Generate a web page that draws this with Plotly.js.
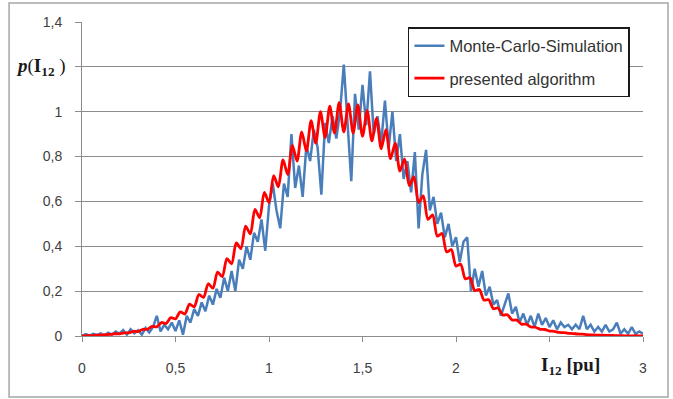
<!DOCTYPE html>
<html>
<head>
<meta charset="utf-8">
<script src="https://cdn.plot.ly/plotly-3.0.1.min.js"></script>
<style>html,body{margin:0;padding:0;background:#fff;}#chart{width:673px;height:399px;}</style>
</head>
<body>
<div id="chart"></div>
<script>
// Monte-Carlo-Simulation: sampled every 0.02 pu starting at 0
const mcStart = 0;
const mcStep = 0.02;
const mcValues = [
0.000,0.008,0.002,0.010,0.004,0.012,0.002,0.015,0.006,0.020,
0.010,0.026,0.006,0.030,0.012,0.026,0.006,0.036,0.016,0.040,
0.090,0.020,0.050,0.030,0.060,0.022,0.070,0.006,0.090,0.060,
0.120,0.090,0.150,0.110,0.180,0.140,0.210,0.170,0.260,0.200,
0.290,0.200,0.340,0.300,0.400,0.340,0.460,0.420,0.520,0.380,
0.580,0.680,0.560,0.480,0.680,0.620,0.900,0.660,0.760,0.620,
0.850,0.780,0.920,0.840,0.630,0.950,0.860,0.980,0.880,1.000,
1.210,0.950,0.690,1.080,0.920,1.120,0.940,1.180,0.900,0.980,
0.860,1.050,0.840,1.000,0.780,0.900,0.700,0.780,0.640,0.820,
0.480,0.720,0.830,0.560,0.620,0.500,0.550,0.440,0.500,0.400,
0.440,0.330,0.420,0.440,0.200,0.300,0.220,0.290,0.180,0.220,
0.140,0.160,0.090,0.140,0.190,0.100,0.130,0.060,0.100,0.050,
0.090,0.040,0.100,0.050,0.080,0.040,0.070,0.030,0.060,0.040,
0.050,0.030,0.050,0.030,0.090,0.030,0.050,0.020,0.040,0.020,
0.050,0.020,0.030,0.060,0.010,0.030,0.010,0.040,0.010,0.020,
0.010
];

// presented algorithm: sampled every 0.025 pu starting at 0
const algStart = 0;
const algStep = 0.025;
const algValues = [
0.000,0.002,0.002,0.004,0.004,0.006,0.007,0.010,0.010,0.014,
0.014,0.021,0.020,0.030,0.030,0.043,0.041,0.060,0.056,0.082,
0.076,0.108,0.098,0.142,0.130,0.185,0.172,0.233,0.213,0.285,
0.265,0.345,0.322,0.415,0.390,0.490,0.455,0.565,0.527,0.640,
0.595,0.715,0.665,0.785,0.720,0.850,0.780,0.910,0.825,0.960,
0.860,1.000,0.885,1.025,0.905,1.040,0.910,1.035,0.905,1.030,
0.890,1.005,0.870,0.970,0.835,0.920,0.790,0.860,0.735,0.790,
0.670,0.710,0.595,0.625,0.520,0.540,0.445,0.457,0.375,0.385,
0.312,0.320,0.255,0.260,0.203,0.207,0.160,0.162,0.122,0.125,
0.094,0.095,0.071,0.071,0.053,0.053,0.040,0.039,0.030,0.029,
0.022,0.021,0.016,0.015,0.012,0.011,0.009,0.008,0.006,0.005,
0.004,0.004,0.003,0.003,0.002,0.002,0.001,0.001,0.001,0.001,
0.000
];

const seriesNames = ['Monte-Carlo-Simulation', 'presented algorithm'];
const xTickVals = [0, 0.5, 1, 1.5, 2, 3];
const xTickText = ['0', '0,5', '1', '1,5', '2', '3'];
const yTickVals = [0, 0.2, 0.4, 0.6, 0.8, 1, 1.4];
const yTickText = ['0', '0,2', '0,4', '0,6', '0,8', '1', '1,4'];
const yAxisLabel = '<b><i>p</i></b>(<b>I<sub>12</sub></b> )';
const xAxisLabel = '<b>I<sub>12</sub> [pu]</b>';

const serif = 'Liberation Serif, DejaVu Serif, serif';
const sans = 'Liberation Sans, Arial, sans-serif';
const gridGray = '#8c8c8c';

const traces = [
  {
    type: 'scatter', mode: 'lines', name: seriesNames[0], legendgroup: 'a',
    x0: mcStart, dx: mcStep, y: mcValues,
    line: {color: '#4a7ebb', width: 2.5}
  },
  {
    type: 'scatter', mode: 'lines', name: seriesNames[1], legendgroup: 'b',
    x0: algStart, dx: algStep, y: algValues,
    line: {color: '#ff0000', width: 2.8, shape: 'spline', smoothing: 0.8}
  }
];

const layout = {
  width: 673, height: 399,
  margin: {l: 82, r: 30, t: 22, b: 63, pad: 0},
  paper_bgcolor: '#ffffff', plot_bgcolor: '#ffffff',
  font: {family: sans, size: 14, color: '#404040'},
  showlegend: true,
  legend: {
    x: 0.581, y: 0.984, xanchor: 'left', yanchor: 'top',
    bgcolor: '#ffffff', bordercolor: '#1a1a1a', borderwidth: 1.5,
    font: {family: sans, size: 16.5, color: '#333333'},
    traceorder: 'grouped', tracegroupgap: 8,
    entrywidthmode: 'pixels', entrywidth: 186
  },
  xaxis: {
    range: [0, 3], tickmode: 'array', tickvals: xTickVals, ticktext: xTickText,
    showgrid: false, zeroline: false,
    showline: true, linecolor: gridGray, linewidth: 1,
    ticks: 'outside', ticklen: 5, tickcolor: gridGray,
    ticklabelstandoff: 14,
    tickfont: {family: sans, size: 14, color: '#404040'},
    minor: {tick0: 0, dtick: 0.5, ticks: 'outside', ticklen: 5, tickcolor: gridGray, showgrid: false}
  },
  yaxis: {
    range: [0, 1.4], tickmode: 'array', tickvals: yTickVals, ticktext: yTickText,
    showgrid: true, gridcolor: gridGray, gridwidth: 1,
    zeroline: false,
    showline: true, linecolor: gridGray, linewidth: 1,
    ticks: 'outside', ticklen: 6, tickcolor: gridGray,
    ticklabelstandoff: 10,
    tickfont: {family: sans, size: 14, color: '#404040'},
    minor: {tick0: 0, dtick: 0.2, ticks: 'outside', ticklen: 6, tickcolor: gridGray,
            showgrid: true, gridcolor: gridGray, gridwidth: 1}
  },
  annotations: [
    {
      xref: 'paper', yref: 'y', x: -0.025, y: 1.2, xanchor: 'right', yanchor: 'middle',
      showarrow: false, text: yAxisLabel,
      font: {family: serif, size: 19, color: '#1a1a1a'}
    },
    {
      xref: 'x', yref: 'paper', x: 2.61, y: -0.095, xanchor: 'center', yanchor: 'middle',
      showarrow: false, text: xAxisLabel,
      font: {family: serif, size: 19, color: '#1a1a1a'}
    }
  ],
  shapes: [
    {
      type: 'rect', xref: 'paper', yref: 'paper',
      x0: -0.130, x1: 1.0446, y0: -0.194, y1: 1.0605,
      line: {color: '#a6a6a6', width: 1.5}, fillcolor: 'rgba(0,0,0,0)', layer: 'below'
    }
  ]
};

Plotly.newPlot('chart', traces, layout, {staticPlot: true, displayModeBar: false});
</script>
</body>
</html>
